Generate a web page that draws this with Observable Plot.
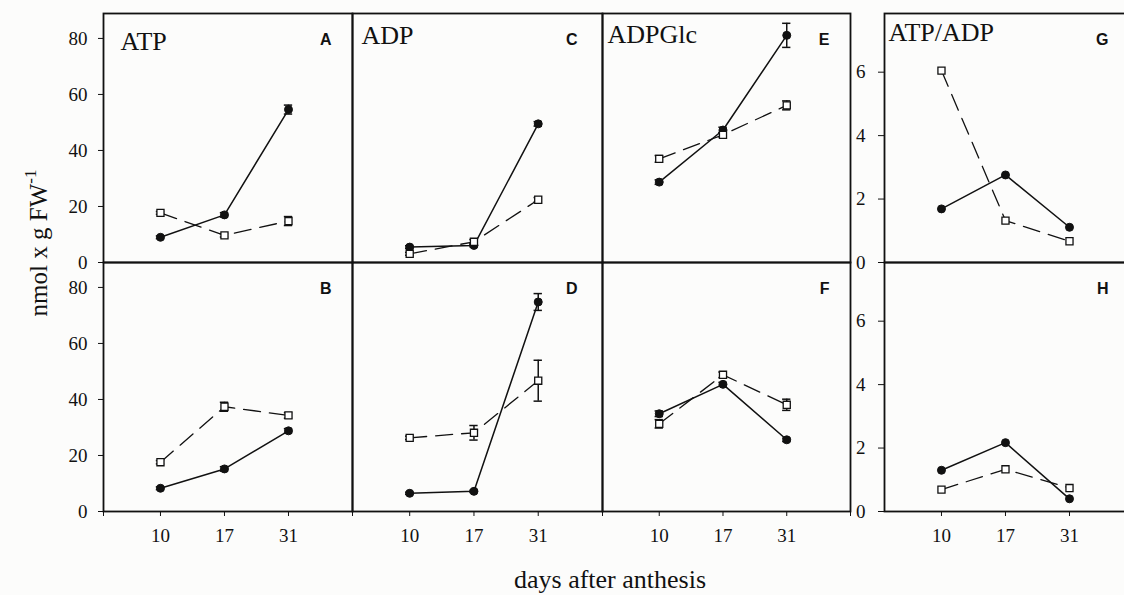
<!DOCTYPE html>
<html>
<head>
<meta charset="utf-8">
<script src="https://cdn.jsdelivr.net/npm/d3@7"></script>
<script src="https://cdn.jsdelivr.net/npm/@observablehq/plot@0.6"></script>
<style>
  body { margin: 0; background: #fcfcfb; }
  #chart { position: relative; width: 1124px; height: 595px; overflow: hidden; background: #fcfcfb; font-family: "Liberation Serif", "Times New Roman", serif; }
  .panel { position: absolute; }
  #chart svg { font-family: "Liberation Serif", serif; }
  #chart svg g[aria-label*="tick label"], #chart svg g[aria-label*="tick label"] text { font-family: "Liberation Serif", "Times New Roman", serif !important; }
  #ylab { position: absolute; left: 38px; top: 243px; transform: translate(-50%, -50%) rotate(-90deg); white-space: nowrap; font-size: 25px; color: #111; }
  #ylab sup { font-size: 17px; position: relative; top: -2px; }
  #xlab { position: absolute; left: 610px; top: 567px; transform: translateX(-50%); white-space: nowrap; font-size: 26px; line-height: 26px; color: #111; }
</style>
</head>
<body>
<div id="chart">
  <div id="ylab">nmol x g FW<sup>-1</sup></div>
  <div id="xlab">days after anthesis</div>
</div>
<script>
// ---- categories (days after anthesis) ----
const days = ["10", "17", "31"];

// ---- tick labels ----
const concTicks = [0, 20, 40, 60, 80];
const ratioTicks = [0, 2, 4, 6];

// ---- Panel A: ATP (top row) ----
const atpTopSolid = [9.0, 17.0, 54.6];
const atpTopSolidErr = [0.5, 0.8, 1.6];
const atpTopOpen = [17.7, 9.7, 14.8];
const atpTopOpenErr = [0.5, 0.6, 1.6];

// ---- Panel B: ATP (bottom row) ----
const atpBotSolid = [8.3, 15.2, 28.8];
const atpBotSolidErr = [0.5, 0.8, 0.8];
const atpBotOpen = [17.6, 37.4, 34.3];
const atpBotOpenErr = [0.6, 1.6, 1.0];

// ---- Panel C: ADP (top row) ----
const adpTopSolid = [5.5, 6.1, 49.5];
const adpTopSolidErr = [0.5, 0.5, 0.8];
const adpTopOpen = [3.1, 7.4, 22.4];
const adpTopOpenErr = [0.5, 0.8, 0.8];

// ---- Panel D: ADP (bottom row) ----
const adpBotSolid = [6.5, 7.2, 74.8];
const adpBotSolidErr = [0.4, 0.4, 3.0];
const adpBotOpen = [26.3, 28.1, 46.7];
const adpBotOpenErr = [0.6, 2.6, 7.3];

// ---- Panel E: ADPGlc (top row) ----
const adpglcTopSolid = [28.7, 47.3, 81.1];
const adpglcTopSolidErr = [0.8, 1.0, 4.3];
const adpglcTopOpen = [37.0, 45.6, 56.1];
const adpglcTopOpenErr = [1.2, 0.8, 1.6];

// ---- Panel F: ADPGlc (bottom row) ----
const adpglcBotSolid = [34.9, 45.4, 25.6];
const adpglcBotSolidErr = [1.0, 0.7, 0.6];
const adpglcBotOpen = [31.3, 48.8, 38.1];
const adpglcBotOpenErr = [1.5, 1.0, 2.0];

// ---- Panel G: ATP/ADP (top row) ----
const ratioTopSolid = [1.69, 2.76, 1.11];
const ratioTopOpen = [6.05, 1.32, 0.67];

// ---- Panel H: ATP/ADP (bottom row) ----
const ratioBotSolid = [1.30, 2.17, 0.40];
const ratioBotOpen = [0.69, 1.33, 0.74];

// ---- layout ----
const colLeft = [103, 352, 602, 884];
const colWidth = [249, 250, 248, 249];
const rowTop = [13, 262];
const rowHeight = 249;
const M = {left: 50, right: 10, top: 10, bottom: 50};
const xDomain = [0.11, 4.0];
const concDomain = [0, 88.9];
const ratioDomain = [0, 7.85];
const serif = "Liberation Serif, Times New Roman, serif";
const sans = "Liberation Sans, Arial, sans-serif";

const panels = [
  {letter: "A", title: "ATP", row: 0, col: 0, solid: atpTopSolid, solidErr: atpTopSolidErr, open: atpTopOpen, openErr: atpTopOpenErr, tdx: 17, tdy: 36, ldx: -21},
  {letter: "B", title: "", row: 1, col: 0, solid: atpBotSolid, solidErr: atpBotSolidErr, open: atpBotOpen, openErr: atpBotOpenErr, ldx: -21},
  {letter: "C", title: "ADP", row: 0, col: 1, solid: adpTopSolid, solidErr: adpTopSolidErr, open: adpTopOpen, openErr: adpTopOpenErr, tdx: 9, tdy: 30, ldx: -25},
  {letter: "D", title: "", row: 1, col: 1, solid: adpBotSolid, solidErr: adpBotSolidErr, open: adpBotOpen, openErr: adpBotOpenErr, ldx: -25},
  {letter: "E", title: "ADPGlc", row: 0, col: 2, solid: adpglcTopSolid, solidErr: adpglcTopSolidErr, open: adpglcTopOpen, openErr: adpglcTopOpenErr, tdx: 5, tdy: 29, ldx: -21},
  {letter: "F", title: "", row: 1, col: 2, solid: adpglcBotSolid, solidErr: adpglcBotSolidErr, open: adpglcBotOpen, openErr: adpglcBotOpenErr, ldx: -21},
  {letter: "G", title: "ATP/ADP", row: 0, col: 3, solid: ratioTopSolid, open: ratioTopOpen, tdx: 4, tdy: 27, ldx: -25},
  {letter: "H", title: "", row: 1, col: 3, solid: ratioBotSolid, open: ratioBotOpen, ldx: -25}
];

const chart = document.getElementById("chart");
const capHalf = 0.065;

function series(vals, errs) {
  return days.map((d, i) => ({i: i + 1, day: d, v: vals[i], e: errs ? errs[i] : 0}));
}

for (const p of panels) {
  const w = colWidth[p.col];
  const isRatio = p.col === 3;
  const solid = series(p.solid, p.solidErr);
  const open = series(p.open, p.openErr);
  const errs = [...solid, ...open].filter(d => d.e > 0);
  const marks = [
    Plot.line(open, {x: "i", y: "v", stroke: "#111", strokeWidth: 1.3, strokeDasharray: "17,9"}),
    Plot.line(solid, {x: "i", y: "v", stroke: "#111", strokeWidth: 1.5}),
    Plot.ruleX(errs, {x: "i", y1: d => d.v - d.e, y2: d => d.v + d.e, stroke: "#111", strokeWidth: 1.5}),
    Plot.ruleY(errs, {y: d => d.v + d.e, x1: d => d.i - capHalf, x2: d => d.i + capHalf, stroke: "#111", strokeWidth: 1.5}),
    Plot.ruleY(errs, {y: d => d.v - d.e, x1: d => d.i - capHalf, x2: d => d.i + capHalf, stroke: "#111", strokeWidth: 1.5}),
    Plot.dot(solid, {x: "i", y: "v", r: 4, fill: "#111", stroke: "#111", strokeWidth: 1}),
    Plot.dot(open, {x: "i", y: "v", symbol: "square", r: 4, fill: "white", stroke: "#111", strokeWidth: 1.3}),
    Plot.frame({stroke: "#111", strokeWidth: 1.8}),
    Plot.text([p.letter], {frameAnchor: "top-right", dx: p.ldx, dy: 31, textAnchor: "end", lineAnchor: "bottom", fontSize: 16, fontWeight: "bold", fontFamily: sans, fill: "#111"})
  ];
  if (p.title) {
    marks.push(Plot.text([p.title], {frameAnchor: "top-left", dx: p.tdx, dy: p.tdy, textAnchor: "start", lineAnchor: "bottom", fontSize: 26, fontFamily: serif, fill: "#111"}));
  }
  if (p.col === 0) {
    marks.push(Plot.axisY({ticks: concTicks, tickSize: 5, tickPadding: 11, fontSize: 19, fontFamily: serif, label: null, stroke: "#111", fill: "#111"}));
  }
  if (isRatio) {
    marks.push(Plot.axisY({ticks: ratioTicks, tickSize: 6, tickPadding: 13, fontSize: 19, fontFamily: serif, label: null, stroke: "#111", fill: "#111"}));
  }
  if (p.row === 1) {
    marks.push(Plot.axisX({ticks: [1, 2, 3], tickFormat: i => days[i - 1], tickSize: 5, tickPadding: 12, fontSize: 19, fontFamily: serif, label: null, stroke: "#111", fill: "#111"}));
    if (!isRatio) {
      marks.push(Plot.axisX({ticks: xDomain, tickFormat: () => "", tickSize: 5, label: null, stroke: "#111"}));
    }
  }
  const svg = Plot.plot({
    width: M.left + w + M.right,
    height: M.top + rowHeight + M.bottom,
    marginLeft: M.left, marginRight: M.right, marginTop: M.top, marginBottom: M.bottom,
    x: {domain: xDomain, axis: null},
    y: {domain: isRatio ? ratioDomain : concDomain, axis: null},
    style: {background: "transparent", overflow: "visible", fontFamily: serif, maxWidth: "none", color: "#111"},
    marks
  });
  const div = document.createElement("div");
  div.className = "panel";
  div.style.left = (colLeft[p.col] - M.left) + "px";
  div.style.top = (rowTop[p.row] - M.top) + "px";
  div.appendChild(svg);
  chart.appendChild(div);
}
</script>
</body>
</html>
